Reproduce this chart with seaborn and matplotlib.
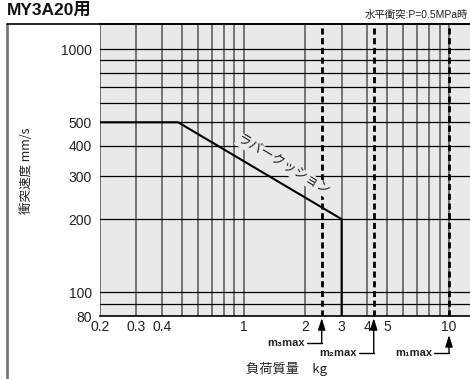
import matplotlib
matplotlib.use("Agg")
import matplotlib.pyplot as plt
import matplotlib.transforms as mtransforms
import seaborn as sns
import pandas as pd

sns.set_style("white")
plt.rcParams['font.family'] = ['Liberation Sans', 'DejaVu Sans', 'Noto Sans CJK JP']

# データ
load_kg = [0.2, 0.48, 3, 3]
speed_mms = [500, 500, 200, 80]
mmax_kg = [2.4, 4.3, 10]
mmax_labels = ['m₃max', 'm₂max', 'm₁max']
x_ticks = [0.2, 0.3, 0.4, 1, 2, 3, 4, 5, 10]
x_ticklabels = ['0.2', '0.3', '0.4', '1', '2', '3', '4', '5', '10']
y_ticks = [80, 100, 200, 300, 400, 500, 1000]
x_grid = [0.2, 0.3, 0.4, 0.5, 0.6, 0.7, 0.8, 0.9, 1, 2, 3, 4, 5, 6, 7, 8, 9, 10]
y_grid = [80, 90, 100, 200, 300, 400, 500, 600, 700, 800, 900, 1000]

fig = plt.figure(figsize=(4.7, 3.79), dpi=100)
ax = fig.add_axes([100 / 470, 1 - 316 / 379, 370 / 470, 292 / 379])
ax.set_facecolor('#e8e9e9')
ax.set_xscale('log')
ax.set_yscale('log')
ax.set_xlim(0.2, 12.65)
ax.set_ylim(80, 1267)

for gx in x_grid:
    ax.axvline(gx, color='#6a6a6a', lw=1.3, zorder=1)
for gy in y_grid:
    ax.axhline(gy, color='black', lw=0.9, zorder=1)

for mx in mmax_kg:
    ax.axvline(mx, color='black', lw=2, ls=(0, (2.2, 1.3)), zorder=2)

df = pd.DataFrame({'load': load_kg, 'speed': speed_mms})
sns.lineplot(data=df, x='load', y='speed', sort=False, estimator=None,
             color='black', lw=1.5, ax=ax, zorder=3)

ax.text(1.56, 333, 'ラバークッション', rotation=-30.6, rotation_mode='anchor',
        ha='center', va='center', fontsize=9.5, color='#222222', zorder=4,
        family=['Noto Sans CJK JP'],
        bbox=dict(facecolor='#e8e9e9', edgecolor='none', pad=0.3))

ax.set_xticks(x_ticks)
ax.set_xticklabels(x_ticklabels)
ax.xaxis.set_minor_locator(matplotlib.ticker.NullLocator())
ax.set_yticks(y_ticks)
ax.set_yticklabels([str(v) for v in y_ticks])
ax.yaxis.set_minor_locator(matplotlib.ticker.NullLocator())
ax.tick_params(axis='both', length=0, labelsize=10, colors='#222222')
ax.tick_params(axis='x', pad=3)
ax.tick_params(axis='y', pad=6)
ax.set_xlabel('')
ax.set_ylabel('')

for side in ['left', 'right']:
    ax.spines[side].set_visible(False)
ax.spines['bottom'].set_color('black')
ax.spines['bottom'].set_linewidth(1.2)
ax.spines['top'].set_color('black')
ax.spines['top'].set_linewidth(1.2)

# 矢印
trans = mtransforms.blended_transform_factory(ax.transData, ax.transAxes)
tips = [-0.007, -0.007, -0.065]
bases = [-0.092, -0.127, -0.127]
for mx, lab, tip, base in zip(mmax_kg, mmax_labels, tips, bases):
    ax.annotate('', xy=(mx, tip), xytext=(mx, base), xycoords=trans, textcoords=trans,
                arrowprops=dict(arrowstyle='-|>,head_length=0.7,head_width=0.22',
                                color='black', lw=1, shrinkA=0, shrinkB=0),
                annotation_clip=False)
    ax.plot([mx * 0.845, mx], [base, base], transform=trans, color='black', lw=1, clip_on=False)
    ax.text(mx * 0.83, base, lab, transform=trans, ha='right', va='center',
            fontsize=8, fontweight='bold', color='#222222')

# 外枠
fig.add_artist(plt.Line2D([7 / 470, 7 / 470], [0, 1 - 24 / 379], color='#777777', lw=2))
fig.add_artist(plt.Line2D([7 / 470, 1], [1 - 24 / 379, 1 - 24 / 379], color='black', lw=1.2))

fig.text(7 / 470, 1 - 10 / 379, 'MY3A20用', fontsize=12.5, fontweight='bold',
         ha='left', va='center', color='#111111',
         family=['Liberation Sans', 'Noto Sans CJK JP'])
fig.text(468 / 470, 1 - 15 / 379, '水平衝突:P=0.5MPa時', fontsize=7.5,
         ha='right', va='center', color='#222222',
         family=['Liberation Sans', 'Noto Sans CJK JP'])
fig.text(287 / 470, 1 - 369 / 379, '負荷質量　kg', fontsize=9.5,
         ha='center', va='center', color='#222222',
         family=['Noto Sans CJK JP'])
fig.text(27 / 470, 1 - 171 / 379, '衝突速度 mm/s', fontsize=9, rotation=90,
         ha='center', va='center', color='#222222',
         family=['Noto Sans CJK JP'])

fig.savefig('out.png', dpi=100)
